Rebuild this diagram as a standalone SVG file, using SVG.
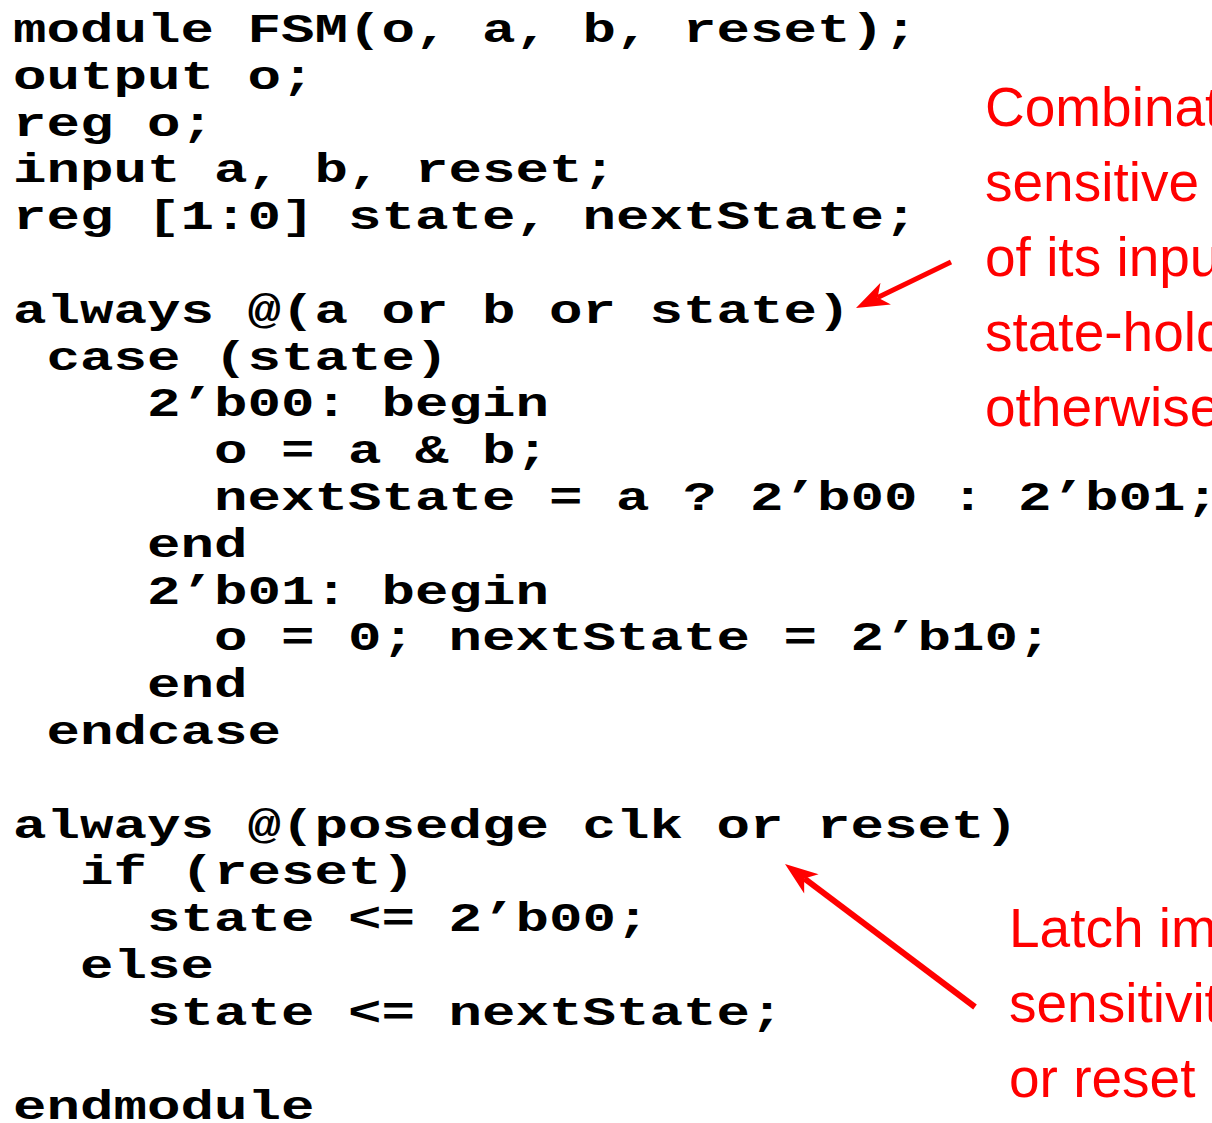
<svg xmlns="http://www.w3.org/2000/svg" width="1212" height="1123" viewBox="0 0 1212 1123">
  <style>
    .code { font-family: "Liberation Mono", "Courier New", monospace; font-weight: bold; font-size: 41px; fill: #000; white-space: pre; }
    .note { font-family: "Liberation Sans", Arial, sans-serif; font-size: 55px; fill: #ff0000; white-space: pre; }
    .arrow { stroke: #ff0000; fill: none; stroke-linecap: butt; }
  </style>
  <defs>
    <marker id="head" markerUnits="userSpaceOnUse" viewBox="-34 -13 36 26" markerWidth="36" markerHeight="26" refX="-24" refY="0" orient="auto">
      <path d="M0,0 L-33,-12 L-24,0 L-33,12 Z" fill="#ff0000"/>
    </marker>
  </defs>
  <rect width="1212" height="1123" fill="#ffffff"/>

  <!-- Verilog listing: monospace bold, widened horizontally -->
  <g id="code" transform="scale(1.362,1)">
    <text class="code" x="9.5" y="42">module FSM(o, a, b, reset);</text>
    <text class="code" x="9.5" y="89">output o;</text>
    <text class="code" x="9.5" y="136">reg o;</text>
    <text class="code" x="9.5" y="182">input a, b, reset;</text>
    <text class="code" x="9.5" y="229">reg [1:0] state, nextState;</text>
    <text class="code" x="9.5" y="323">always @(a or b or state)</text>
    <text class="code" x="34.1" y="370">case (state)</text>
    <text class="code" x="107.9" y="416">2’b00: begin</text>
    <text class="code" x="157.1" y="463">o = a &amp; b;</text>
    <text class="code" x="157.1" y="510">nextState = a ? 2’b00 : 2’b01;</text>
    <text class="code" x="107.9" y="557">end</text>
    <text class="code" x="107.9" y="604">2’b01: begin</text>
    <text class="code" x="157.1" y="650">o = 0; nextState = 2’b10;</text>
    <text class="code" x="107.9" y="697">end</text>
    <text class="code" x="34.1" y="744">endcase</text>
    <text class="code" x="9.5" y="838">always @(posedge clk or reset)</text>
    <text class="code" x="58.7" y="884">if (reset)</text>
    <text class="code" x="107.9" y="931">state &lt;= 2’b00;</text>
    <text class="code" x="58.7" y="978">else</text>
    <text class="code" x="107.9" y="1025">state &lt;= nextState;</text>
    <text class="code" x="9.5" y="1119">endmodule</text>
  </g>

  <!-- annotation for the combinational block -->
  <g id="note-comb">
    <text class="note" x="985" y="126">Combinat</text>
    <text class="note" x="985" y="201">sensitive </text>
    <text class="note" x="985" y="276">of its inpu</text>
    <text class="note" x="985" y="351">state-hold</text>
    <text class="note" x="985" y="426">otherwise</text>
  </g>

  <!-- annotation for the sequential block -->
  <g id="note-latch">
    <text class="note" x="1009" y="947">Latch im</text>
    <text class="note" x="1009" y="1022">sensitivit</text>
    <text class="note" x="1009" y="1097">or reset</text>
  </g>

  <g id="connectors">
    <path class="arrow" stroke-width="5" d="M951,262 L877.6,297.5" marker-end="url(#head)"/>
    <path class="arrow" stroke-width="6" d="M975,1007 L804.2,878.4" marker-end="url(#head)"/>
  </g>
</svg>
